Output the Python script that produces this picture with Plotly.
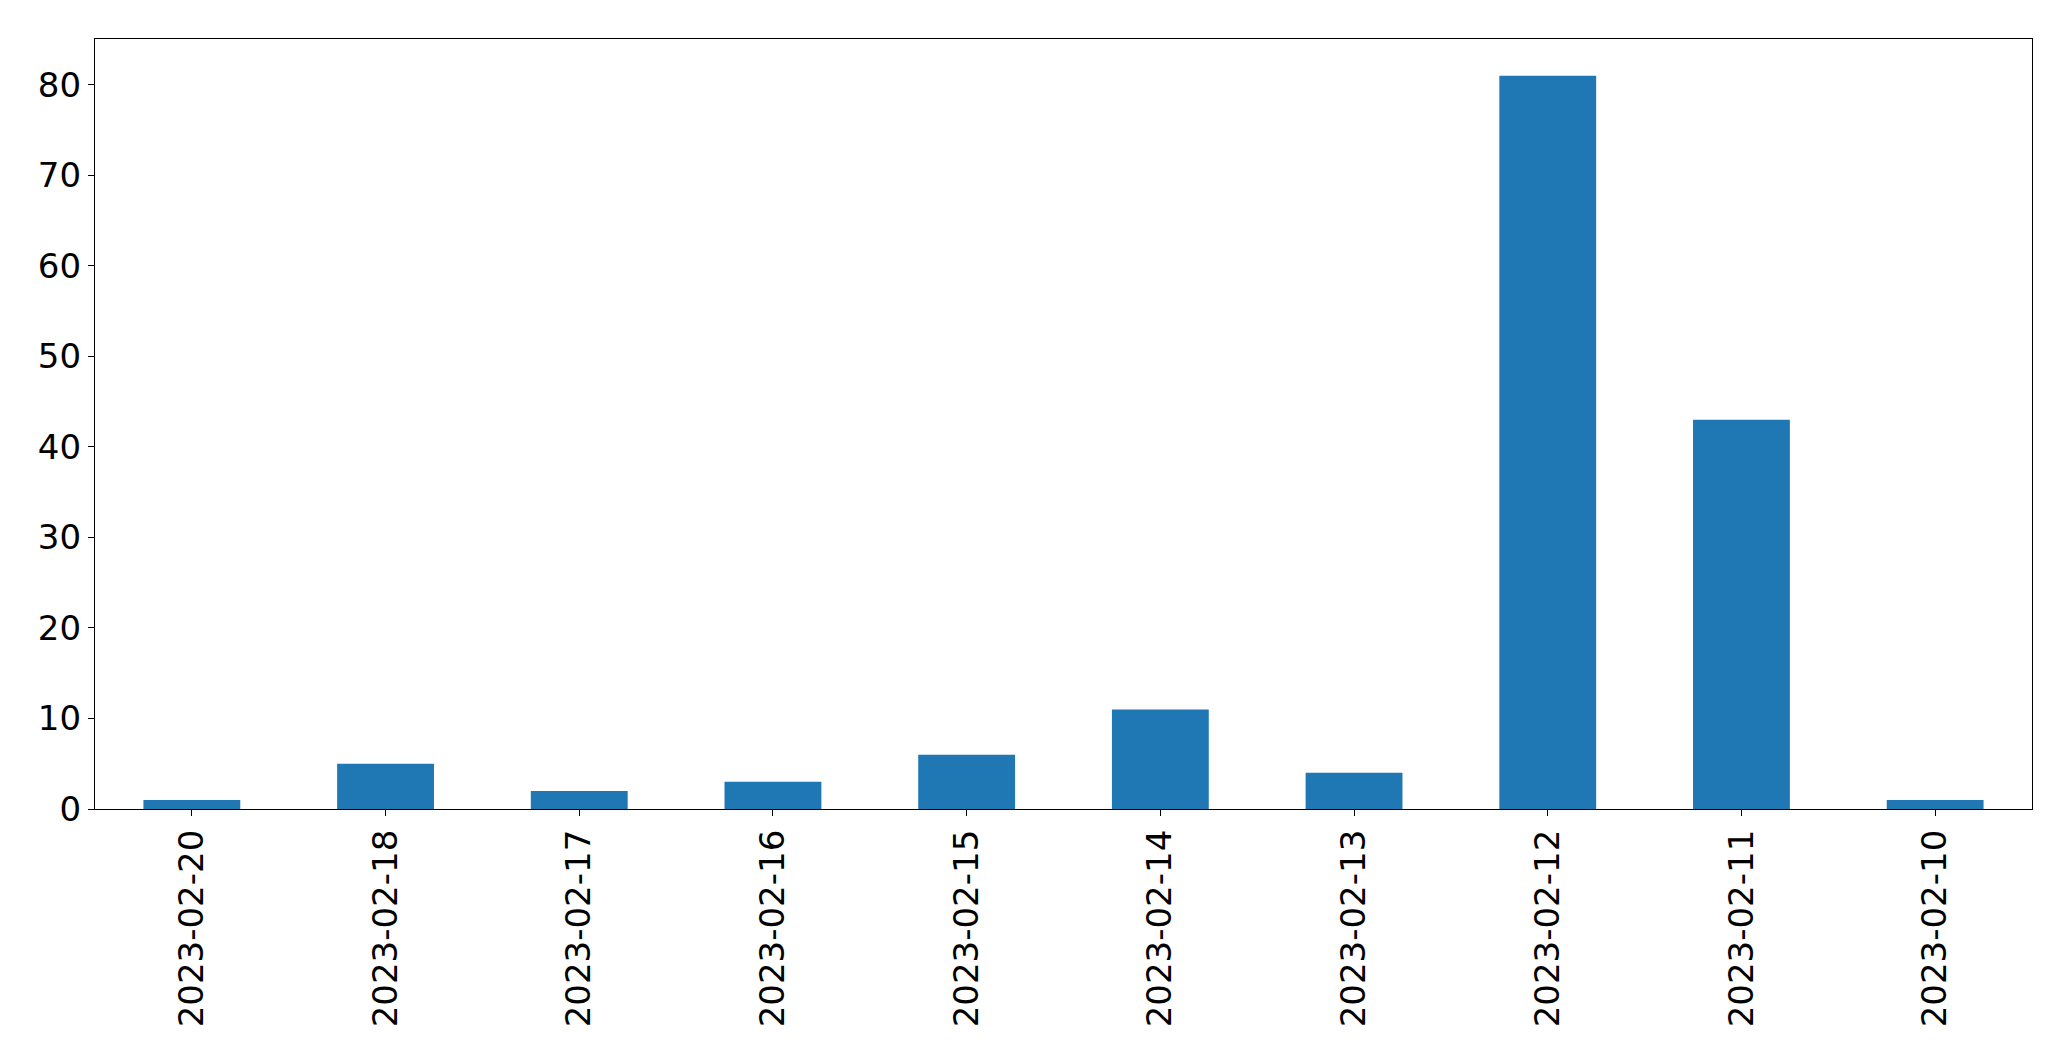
import plotly.graph_objects as go

dates = ["2023-02-20", "2023-02-18", "2023-02-17", "2023-02-16", "2023-02-15",
         "2023-02-14", "2023-02-13", "2023-02-12", "2023-02-11", "2023-02-10"]
counts = [1, 5, 2, 3, 6, 11, 4, 81, 43, 1]

fig = go.Figure(go.Bar(x=dates, y=counts, width=0.5, marker=dict(color="#1f77b4", line=dict(width=0))))

font = dict(family="DejaVu Sans", size=34, color="black")
fig.update_layout(
    width=2071, height=1061,
    margin=dict(l=95, r=39, t=39, b=252, autoexpand=False),
    paper_bgcolor="white", plot_bgcolor="white",
    showlegend=False,
    font=font,
)
fig.update_xaxes(
    type="category", range=[-0.5, len(dates) - 0.5], automargin=False,
    tickangle=-90, ticks="outside", ticklen=6, tickwidth=1.3, tickcolor="black",
    showline=True, linecolor="black", linewidth=1.3, mirror=True,
    showgrid=False, zeroline=False, tickfont=font,
)
fig.update_yaxes(
    range=[0, max(counts) * 1.05], tickvals=[0, 10, 20, 30, 40, 50, 60, 70, 80],
    automargin=False,
    ticks="outside", ticklen=6, tickwidth=1.3, tickcolor="black",
    showline=True, linecolor="black", linewidth=1.3, mirror=True,
    showgrid=False, zeroline=False, tickfont=font,
)
fig.write_html(
    "out.html",
    config={"displayModeBar": False},
    post_script="document.body.style.margin='0';document.body.style.overflow='hidden';",
)
